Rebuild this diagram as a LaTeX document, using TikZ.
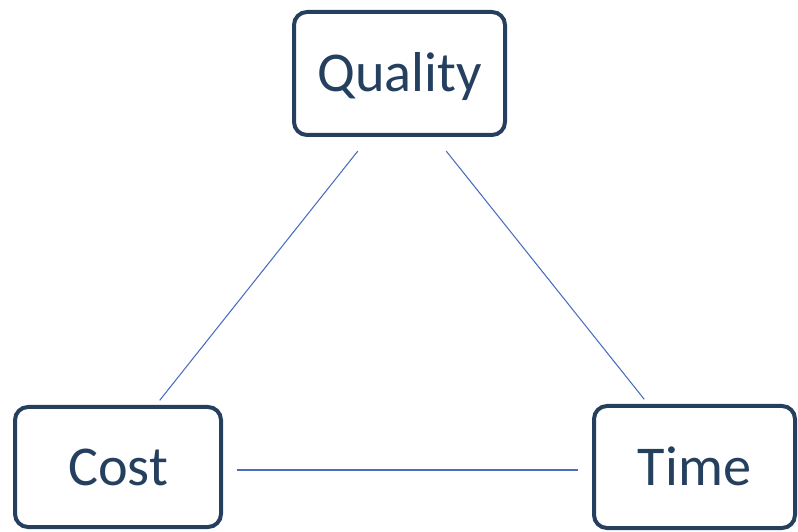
\documentclass[tikz,border=0pt]{standalone}
\usepackage{fontspec}
\setmainfont{Carlito}
\definecolor{boxnavy}{HTML}{25405F}
\definecolor{linkblue}{HTML}{4A6CC0}
\tikzset{
  goal/.style={draw=boxnavy, line width=0.08cm, rounded corners=0.26cm, text=boxnavy,
    font=\fontsize{32}{38}\selectfont, text height=0.72cm, text depth=0cm, inner sep=0pt},
  link/.style={draw=linkblue, line width=0.6pt}
}
\begin{document}
\begin{tikzpicture}
  \useasboundingbox (0,0) rectangle (15.96,10.62);
  \node[goal, minimum width=4.22cm, minimum height=2.46cm] (q) at (7.99,9.15) {Quality};
  \node[goal, minimum width=4.12cm, minimum height=2.40cm] (c) at (2.36,1.28) {Cost};
  \node[goal, minimum width=4.02cm, minimum height=2.44cm] (t) at (13.89,1.28) {Time};

  \draw[link, shorten <=0.36cm, shorten >=0.12cm] ([xshift=-0.61cm]q.south) -- ([xshift=0.76cm]c.north);
  \draw[link, shorten <=0.36cm, shorten >=0.12cm] ([xshift=0.71cm]q.south) -- ([xshift=-0.93cm]t.north);
  \draw[link, shorten <=0.28cm, shorten >=0.28cm] ([yshift=-0.06cm]c.east) -- ([yshift=-0.06cm]t.west);
\end{tikzpicture}
\end{document}
